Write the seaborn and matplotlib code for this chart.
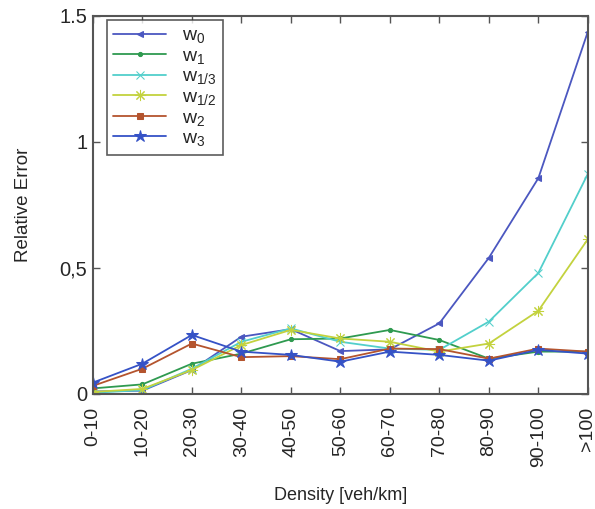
import pandas as pd
import matplotlib
matplotlib.use("Agg")
import matplotlib.pyplot as plt
import seaborn as sns

# Density classes (x axis)
density = ["0-10", "10-20", "20-30", "30-40", "40-50", "50-60",
           "60-70", "70-80", "80-90", "90-100", ">100"]

# Relative error per weighting scheme
w0 = [0.01, 0.013, 0.095, 0.227, 0.257, 0.17, 0.177, 0.28, 0.54, 0.856, 1.437]
w1 = [0.022, 0.038, 0.12, 0.16, 0.217, 0.22, 0.254, 0.214, 0.14, 0.168, 0.168]
w13 = [0.005, 0.015, 0.10, 0.207, 0.26, 0.207, 0.18, 0.175, 0.287, 0.48, 0.873]
w12 = [0.008, 0.02, 0.095, 0.194, 0.254, 0.22, 0.207, 0.168, 0.20, 0.33, 0.614]
w2 = [0.032, 0.10, 0.20, 0.146, 0.15, 0.138, 0.18, 0.178, 0.14, 0.18, 0.168]
w3 = [0.045, 0.12, 0.234, 0.168, 0.155, 0.128, 0.168, 0.155, 0.132, 0.175, 0.16]

labels = [r"w$_0$", r"w$_1$", r"w$_{1/3}$", r"w$_{1/2}$", r"w$_2$", r"w$_3$"]
series = [w0, w1, w13, w12, w2, w3]
colors = ["#4b57c0", "#2f9a50", "#52cfcb", "#c3d23e", "#b4542e", "#3552c6"]
markers = ["<", ".", "x", (8, 2, 0), "s", "*"]
msizes = [5, 6, 6, 8, 5, 9]

rows = []
for lab, vals in zip(labels, series):
    for d, v in zip(density, vals):
        rows.append({"Density": d, "Error": v, "w": lab})
df = pd.DataFrame(rows)
df["x"] = df["Density"].map({d: i for i, d in enumerate(density)})

sns.set_style("white")
plt.rcParams["font.family"] = ["Liberation Sans", "DejaVu Sans"]
plt.rcParams["mathtext.fontset"] = "custom"
plt.rcParams["mathtext.rm"] = "Liberation Sans"
plt.rcParams["mathtext.it"] = "Liberation Sans"

fig = plt.figure(figsize=(5.95, 5.09), dpi=100)
ax = fig.add_axes([0.156, 0.226, 0.832, 0.743])

for lab, c, m, ms in zip(labels, colors, markers, msizes):
    sub = df[df["w"] == lab]
    sns.lineplot(data=sub, x="x", y="Error", color=c, marker=m, markersize=ms,
                 markeredgecolor=c, markerfacecolor=c, linewidth=1.3,
                 label=lab, ax=ax)

ax.set_xlim(0, len(density) - 1)
ax.set_ylim(0, 1.5)
ax.set_xticks(range(len(density)))
ax.set_xticklabels(density, rotation=90, fontsize=14)
ax.set_yticks([0, 0.5, 1, 1.5])
ax.set_yticklabels(["0", "0,5", "1", "1.5"], fontsize=14.5)
ax.set_xlabel("Density [veh/km]", fontsize=13, labelpad=14)
ax.set_ylabel("Relative Error", fontsize=13.5, labelpad=20)
ax.tick_params(direction="in", length=5, width=1, color="#555555",
               top=True, right=True, bottom=True, left=True)
ax.tick_params(axis="x", pad=9)
ax.tick_params(axis="y", pad=4)
for s in ax.spines.values():
    s.set_color("#555555")
    s.set_linewidth(1.5)

leg = ax.legend(loc="upper left", bbox_to_anchor=(0.028, 0.989), fontsize=14,
                frameon=True, fancybox=False, handlelength=2.7,
                labelspacing=0.1, borderpad=0.35, handletextpad=0.8,
                borderaxespad=0)
leg.get_frame().set_edgecolor("#333333")
leg.get_frame().set_linewidth(1.2)

fig.savefig("out.png", dpi=100)
